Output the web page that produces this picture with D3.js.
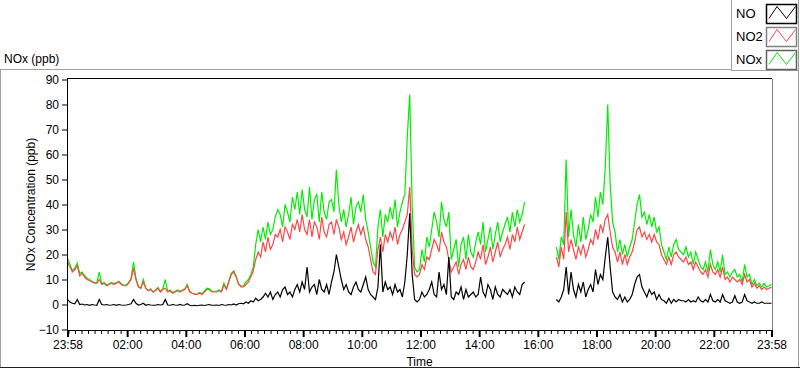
<!DOCTYPE html>
<html>
<head>
<meta charset="utf-8">
<script src="https://cdn.jsdelivr.net/npm/d3@7"></script>
<style>
  body { margin: 0; background: #fff; }
  svg text { font-family: "Liberation Sans", Arial, sans-serif; fill: #000; }
</style>
</head>
<body>
<div id="chart"></div>
<script>
// 5-minute samples starting at 23:58, null = instrument gap
const startTime = "2024-01-01T23:58:00Z";
const stepMinutes = 5;

const seriesNames = ["NO", "NO2", "NOx"];

const no = [
  2, 1, 0.5, 0.3, 2, 0, 0.2, -0.2, 0, -0.3, 0, -0.2,
  -0.3, 2, 0, -0.2, 0, -0.3, -0.2, 0, -0.3, 0, -0.2, -0.3,
  -0.2, 0, 0.3, 2, 0.5, -0.2, 0, 0.5, -0.3, 0, -0.2, -0.3,
  -0.3, 0, -0.2, 0, 2, -0.2, -0.3, 0, -0.2, -0.3, 0, -0.3,
  -0.2, 0.3, -0.3, -0.5, -0.3, -0.5, -0.3, -0.2, -0.4, -0.2, 0, -0.3,
  -0.3, -0.2, -0.4, 0, -0.2, -0.3, 0, -0.2, 0.2, -0.2, 0.3, 0.5,
  0.3, 1, 0.5, 1.5, 1, 2.5, 1.5, 2, 3, 4.5, 3, 5,
  2, 4, 5, 3, 6, 7, 4, 5, 3, 6, 8, 5,
  9, 6, 15, 5, 7, 8, 4, 10, 6, 5, 8, 4,
  9, 13, 20, 15, 10, 6, 8, 5, 4, 7, 9, 6,
  5, 8, 11, 6, 4, 3, 2, 7, 24, 5, 9, 6,
  7, 4, 8, 5, 6, 3, 9, 20, 36.5, 12, 2, 1,
  2, 5, 3, 4, 6, 9, 4, 3, 13, 6, 8, 4,
  19, 3, 2, 5, 4, 7, 2, 6, 3, 4, 5, 3,
  4, 11, 5, 3, 8, 6, 2, 7, 4, 3, 6, 5,
  4, 6, 3, 7, 5, 4, 8, 9, null, null, null, null,
  null, null, null, null, null, null, null, null, 2, 1, 3, 6,
  15, 4, 13, 6, 3, 8, 5, 9, 3, 6, 8, 5,
  14, 8, 12, 10, 19, 27, 15, 5, 3, 2, 4, 1,
  3, 1, 2, 4, 8, 11, 12, 7, 5, 3, 6, 4,
  5, 2, 4, 2, 1.5, 0.5, 2.5, 0.5, 2, 1, 2, 1.5,
  1.5, 1, 2, 1, 1.5, 1, 3, 1.5, 1, 2, 1, 4,
  1.5, 1, 2, 1, 4, 1.5, 1, 0.5, 1, 3.5, 1, 0.5,
  1, 4, 1.5, 1, 0.5, 1, 0.5, 0.5, 1, 0.5, 0.5, 0.5,
  0.5
];

const no2 = [
  17, 15, 13, 14, 15.5, 11.5, 12.5, 11, 10, 9.5, 9, 8.5,
  8.5, 10, 8, 8.5, 7.5, 8, 8.5, 8, 8.5, 9, 8, 7.5,
  7.5, 8.5, 10, 14.5, 10, 7, 6.5, 9, 6.5, 5.5, 6, 5,
  5.5, 6.5, 5, 6, 6.5, 5, 5.5, 4.5, 5, 5.5, 5, 5.5,
  6, 7.5, 5, 4.5, 4, 4, 4.5, 4, 5, 6, 6, 5,
  5, 5, 5.5, 5, 8, 6, 9, 12, 13, 11, 8, 7,
  7, 8, 9, 11, 13.5, 18, 21, 19, 25, 21, 27, 22,
  24, 28, 27, 30, 25, 31, 29, 26, 32, 30, 34, 29,
  36, 30, 28, 34, 27, 33, 31, 26, 35, 29, 27, 32,
  33, 28, 34, 31, 26, 29, 24, 27, 31, 25, 29, 32,
  28, 31, 26, 23, 18, 13, 12, 22, 27, 21, 28, 25,
  29, 26, 31, 24, 28, 30, 33, 36, 47, 22, 12, 11,
  12, 16, 14, 19, 18, 22, 26, 24, 21, 29, 25, 23,
  18, 13, 15, 17, 12, 16, 18, 14, 19, 15, 14, 17,
  21, 18, 24, 16, 19, 23, 17, 21, 25, 19, 22, 24,
  27, 22, 28, 25, 31, 26, 29, 32, null, null, null, null,
  null, null, null, null, null, null, null, null, 19, 15, 23, 18,
  37, 21, 26, 22, 18, 23, 20, 24, 19, 22, 26, 24,
  30, 26, 32, 29, 34, 36, 29, 23, 21, 17, 21, 16,
  20, 16, 19, 21, 25, 30, 31, 27, 29, 26, 28, 25,
  28, 25, 24, 20, 18, 16, 19, 16, 20, 21, 19, 18,
  17, 19, 16, 17, 14, 17, 15, 13, 12, 14, 11, 16,
  13, 12, 14, 11, 15, 10, 11, 9, 11, 10, 9, 10,
  8, 12, 9, 10, 7, 8.5, 6.5, 7.5, 6, 7, 6, 6.5,
  7
];

const nox = [
  18.5, 16, 13.5, 14.5, 16.5, 12.5, 13, 11.5, 10.5, 10, 9.3, 8.8,
  8.8, 13, 8.3, 8.8, 7.8, 8.3, 8.8, 8.3, 8.8, 9.3, 8.3, 7.8,
  7.8, 8.8, 10.5, 17, 10.5, 7.3, 6.5, 10, 6.8, 5.5, 6.3, 5,
  5.8, 6.8, 5.3, 6.3, 10, 5.3, 5.8, 4.8, 5.3, 5.8, 5.3, 5.8,
  6.3, 8, 5.3, 4.5, 4.3, 4.2, 4.8, 4.3, 5.3, 6.5, 6.3, 5.3,
  5.3, 5.3, 5.8, 5.3, 8.5, 6.3, 9.5, 12.5, 13.5, 11.3, 8.3, 7.3,
  7.5, 9, 10, 12, 15, 24, 30, 25, 31, 26, 33, 28,
  30, 35, 38, 36, 31, 40, 37, 33, 43, 38, 45, 36,
  46, 38, 35, 47, 34, 42, 44, 33, 45, 37, 34, 41,
  42, 37, 54, 40, 33, 38, 31, 36, 43, 32, 39, 41,
  37, 44, 34, 29, 23, 17, 15, 31, 38, 27, 36, 33,
  39, 34, 42, 31, 37, 41, 44, 67, 84, 40, 15, 13,
  14, 22, 17, 27, 23, 30, 37, 33, 27, 41, 34, 31,
  37, 18, 22, 26, 15, 24, 27, 18, 28, 21, 19, 25,
  29, 24, 33, 21, 26, 31, 22, 28, 33, 25, 29, 32,
  35, 29, 37, 31, 38, 33, 36, 41, null, null, null, null,
  null, null, null, null, null, null, null, null, 23, 18, 27, 24,
  58, 27, 38, 28, 23, 32, 25, 35, 26, 30, 36, 33,
  43, 35, 45, 40, 55, 80, 48, 33, 29, 21, 26, 20,
  24, 19, 23, 26, 33, 40, 44, 35, 37, 32, 36, 31,
  35, 29, 31, 24, 21, 18, 23, 19, 24, 26, 22, 21,
  20, 23, 19, 21, 16, 21, 18, 15, 14, 17, 13, 22,
  16, 14, 17, 13, 20, 12, 13, 11, 13, 14, 11, 12,
  9, 16, 11, 12, 8, 10, 7.5, 8.5, 7, 8.5, 7, 7.5,
  8
];

const yTicks = [-10, 0, 10, 20, 30, 40, 50, 60, 70, 80, 90];
const xTickLabels = ["23:58", "02:00", "04:00", "06:00", "08:00", "10:00", "12:00",
  "14:00", "16:00", "18:00", "20:00", "22:00", "23:58"];

const W = 800, H = 369;
const plot = { left: 67, right: 772, top: 79, bottom: 330 };

const t0 = new Date(startTime);
const t1 = d3.utcDay.offset(t0, 1);

const svg = d3.select("#chart").append("svg")
  .attr("width", W).attr("height", H)
  .attr("viewBox", `0 0 ${W} ${H}`);

const x = d3.scaleUtc().domain([t0, t1]).range([plot.left + 0.5, plot.right - 0.5]);
const y = d3.scaleLinear().domain([-10, 90]).range([329.5, 79.5]);

// panel frame
const frame = svg.append("g").attr("fill", "none").attr("shape-rendering", "crispEdges");
frame.append("line").attr("x1", 0.5).attr("x2", 0.5).attr("y1", 69.5).attr("y2", 367).attr("stroke", "#a0a0a0");
frame.append("line").attr("x1", 0).attr("x2", 731).attr("y1", 69.5).attr("y2", 69.5).attr("stroke", "#a0a0a0");
frame.append("line").attr("x1", 798.5).attr("x2", 798.5).attr("y1", 0).attr("y2", 367).attr("stroke", "#a0a0a0");
frame.append("line").attr("x1", 0).attr("x2", 800).attr("y1", 367.5).attr("y2", 367.5).attr("stroke", "#202020");

svg.append("text").attr("x", 4).attr("y", 63).attr("font-size", "12px").text("NOx (ppb)");

// plot box top / right
frame.append("line").attr("x1", plot.left).attr("x2", plot.right).attr("y1", 78.5).attr("y2", 78.5).attr("stroke", "#000");
frame.append("line").attr("x1", plot.right + 0.5).attr("x2", plot.right + 0.5).attr("y1", 78.5).attr("y2", 330).attr("stroke", "#808080");

// y axis
const yAxis = svg.append("g")
  .attr("transform", `translate(${plot.left},0)`)
  .call(d3.axisLeft(y).tickValues(yTicks).tickSize(5).tickPadding(3).tickSizeOuter(0));
yAxis.select(".domain").attr("stroke", "#000").attr("d", `M0.5,78.5V${plot.bottom}`);
yAxis.selectAll("text").attr("font-size", "12px").attr("font-family", null);

// x axis: majors + minors (2h / 9)
const xMajors = xTickLabels.map((s, i) => {
  if (i === 0) return t0;
  if (i === xTickLabels.length - 1) return t1;
  const [hh, mm] = s.split(":").map(Number);
  return new Date(Date.UTC(2024, 0, 2, hh, mm));
});
const xMinors = d3.range(0, 200)
  .map((k) => new Date(Date.UTC(2024, 0, 2, 0, 0) + k * 800000))
  .filter((d) => d < t1 && !xMajors.some((m) => Math.abs(m - d) < 60000));

svg.append("g")
  .attr("transform", `translate(0,${plot.bottom})`)
  .call(d3.axisBottom(x).tickValues(xMinors).tickSize(4).tickFormat(""))
  .call((g) => g.select(".domain").remove());

const xAxis = svg.append("g")
  .attr("transform", `translate(0,${plot.bottom})`)
  .call(d3.axisBottom(x).tickValues(xMajors).tickSize(7).tickPadding(3).tickSizeOuter(0)
    .tickFormat((d, i) => xTickLabels[i]));
xAxis.select(".domain").attr("stroke", "#000").attr("d", `M${plot.left},0.5H${plot.right}`);
xAxis.selectAll(".tick line").attr("stroke-width", 2);
xAxis.selectAll("text").attr("font-size", "12px").attr("font-family", null);

svg.append("text")
  .attr("transform", `translate(35,${(plot.top + plot.bottom) / 2}) rotate(-90)`)
  .attr("text-anchor", "middle").attr("font-size", "12px")
  .text("NOx Concentration (ppb)");

svg.append("text")
  .attr("x", (plot.left + plot.right) / 2).attr("y", 366)
  .attr("text-anchor", "middle").attr("font-size", "12px").attr("fill", "#300")
  .text("Time");

// series
svg.append("clipPath").attr("id", "clip")
  .append("rect").attr("x", plot.left + 1).attr("y", plot.top)
  .attr("width", plot.right - plot.left - 1).attr("height", plot.bottom - plot.top);

const timeAt = (i) => d3.utcMinute.offset(t0, i * stepMinutes);
const line = d3.line()
  .defined((d) => d != null)
  .x((d, i) => x(timeAt(i)))
  .y((d) => y(d));

const lines = svg.append("g").attr("clip-path", "url(#clip)").attr("fill", "none").attr("stroke-width", 1.2);
const drawOrder = [
  { values: nox, color: "#00ee00" },
  { values: no2, color: "#ff4646" },
  { values: no, color: "#000" },
];
drawOrder.forEach((s) => {
  lines.append("path").attr("d", line(s.values)).attr("stroke", s.color).attr("stroke-linejoin", "miter");
});

// legend
const legend = svg.append("g");
legend.append("path").attr("fill", "#fff").attr("stroke", "#a0a0a0")
  .attr("shape-rendering", "crispEdges")
  .attr("d", "M731.5,0V70.5H798.5V0");
const legendColors = ["#000", "#ff4646", "#00ee00"];
const legendBorders = ["#000", "#808080", "#606060"];
const item = legend.selectAll("g").data(seriesNames).join("g")
  .attr("transform", (d, i) => `translate(0,${i * 23})`);
item.append("text").attr("x", 736).attr("y", 17.5).attr("font-size", "13px").text((d) => d);
item.append("rect").attr("x", 766.5).attr("y", 4.5).attr("width", 30).attr("height", 19)
  .attr("fill", "#fff").attr("stroke", (d, i) => legendBorders[i]).attr("stroke-width", 1.5);
item.append("path")
  .attr("d", "M769,18.5L777,6.5L786.5,18.5L795.5,6.5")
  .attr("fill", "none").attr("stroke", (d, i) => legendColors[i]);
</script>
</body>
</html>
